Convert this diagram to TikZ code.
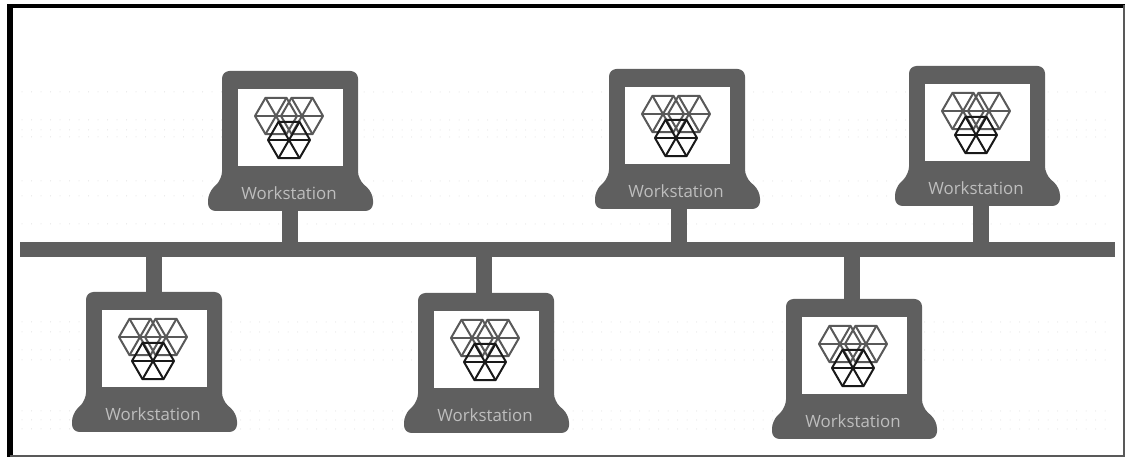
\documentclass[tikz,border=0pt]{standalone}
\usepackage{fontspec}
\setmainfont{Open Sans}
\usetikzlibrary{calc}

\definecolor{bodygray}{HTML}{5F5F5F}
\definecolor{labelgray}{HTML}{BEBEBE}
\definecolor{hexgray}{HTML}{3C3C3C}

\tikzset{
  x=0.2mm, y=-0.2mm,
  shell/.style={fill=bodygray, rounded corners=1.5mm},
  wire/.style={draw=bodygray, line width=3.2mm},
  busbar/.style={fill=bodygray, inner sep=0pt, minimum width=219mm, minimum height=3mm},
  label/.style={text=labelgray, font=\fontsize{9.6}{11}\selectfont, inner sep=0pt},
  hexline/.style={draw=hexgray, line width=0.4mm, line join=round},
  faint/.style={draw=black!15, line width=0.2mm, line cap=round, dash pattern=on 0pt off 1.9mm},
  pics/hexcell/.style={code={
    \draw[hexline,#1] (0:21) -- (60:21) -- (120:21) -- (180:21) -- (240:21) -- (300:21) -- cycle;
    \foreach \ang in {0,60,120} {
      \draw[hexline,#1] (\ang:21) -- (\ang+180:21);
    }
  }},
  pics/laptop/.style={code={
    \fill[shell] (-68,0) -- (68,0) -- (68,108) -- (83,122) -- (83,140) -- (-82,140)
      -- (-82,122) -- (-68,108) -- cycle;
    \fill[white] (-52,18) rectangle (53,95);
    \pic at (-14,45) {hexcell={draw=hexgray!85}};
    \pic at (12,45) {hexcell={draw=hexgray!85}};
    \pic at (-1,69) {hexcell={draw=black!90}};
    \node[label] (-text) at (-1,122) {Workstation};
    \coordinate (-head) at (0,0);
    \coordinate (-foot) at (0,140);
  }}
}

\begin{document}
\begin{tikzpicture}
  \useasboundingbox (0,0) rectangle (1125,457);

  % dots behind the picture
  \foreach \yy in {92,120,130,137,181,196,224,322,332,350,360,411,420,429} {
    \draw[faint] (22,\yy) -- (1110,\yy);
  }

  % frame
  \draw[black, line width=1.2mm] (10,457) -- (10,6);
  \draw[black, line width=0.8mm] (7,6) -- (1125,6);
  \draw[black!65, line width=0.3mm] (1124,5) -- (1124,456) -- (10,456);

  \node[busbar] (bus) at (567.5,250) {};

  \foreach \name/\cx/\cy/\dx in {wsa/290/71/0, wsb/677/69/2, wsc/977/66/4} {
    \pic (\name) at (\cx,\cy) {laptop};
    \coordinate (\name-stem) at ($(\name-foot)+(\dx,0)$);
    \draw[wire] (\name-stem) -- (\name-stem |- bus.center);
  }
  \foreach \name/\cx/\cy/\dx in {wsd/154/292/0, wse/486/293/-2, wsf/854/299/-2} {
    \pic (\name) at (\cx,\cy) {laptop};
    \coordinate (\name-stem) at ($(\name-head)+(\dx,0)$);
    \draw[wire] (\name-stem) -- (\name-stem |- bus.center);
  }
\end{tikzpicture}
\end{document}
